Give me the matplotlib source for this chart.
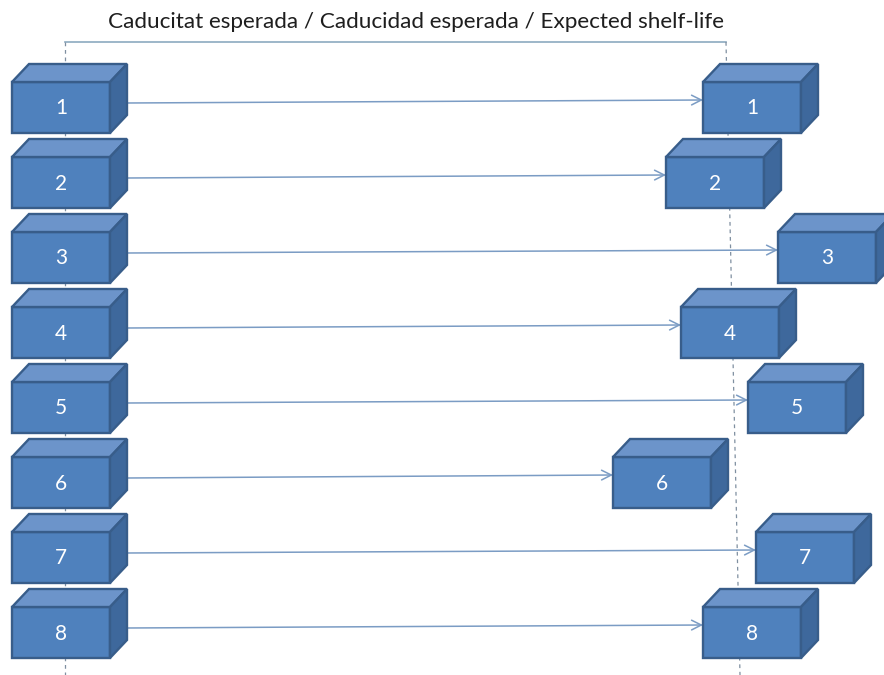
import matplotlib.pyplot as plt
from matplotlib.patches import Polygon

# Data: batch numbers and where each batch ends up (expected shelf-life, px on the axis)
labels = ["1", "2", "3", "4", "5", "6", "7", "8"]
start_x = [12, 12, 12, 12, 12, 12, 12, 12]
end_x = [703, 666, 778, 681, 748, 613, 756, 703]
ref_top = (726, 42)      # expected shelf-life reference line
ref_bottom = (740, 675)
origin_x = 65
title = "Caducitat esperada / Caducidad esperada / Expected shelf-life"

# box look
BW, BH, DX, DY = 98, 51, 17, 18
ROW0, ROW_STEP = 82, 75
FRONT = "#4f81bd"
TOP = "#6c94ca"
SIDE = "#3e689c"
EDGE = "#385d8a"
ARROW = "#7b9cc4"
LINE = "#8caac0"


def draw_box(ax, x, y, text):
    front = [(x, y), (x + BW, y), (x + BW, y + BH), (x, y + BH)]
    top = [(x, y), (x + DX, y - DY), (x + BW + DX, y - DY), (x + BW, y)]
    side = [(x + BW, y), (x + BW + DX, y - DY), (x + BW + DX, y + BH - DY), (x + BW, y + BH)]
    for pts, col in [(front, FRONT), (top, TOP), (side, SIDE)]:
        ax.add_patch(Polygon(pts, closed=True, facecolor=col, edgecolor=EDGE,
                             linewidth=1.7, joinstyle="miter", zorder=3))
    ax.text(x + BW / 2, y + BH / 2 + 1, text, color="white", fontsize=15,
            family="Lato", ha="center", va="center", zorder=4)


fig = plt.figure(figsize=(8.84, 6.75), dpi=100)
ax = fig.add_axes([0, 0, 1, 1])
ax.set_xlim(0, 884)
ax.set_ylim(675, 0)
ax.axis("off")

# reference lines
ax.plot([origin_x, ref_top[0]], [ref_top[1], ref_top[1]], color=LINE, lw=1.2, zorder=1)
ax.plot([origin_x, origin_x], [ref_top[1], 675], color="#7f8fa0", lw=0.9,
        linestyle=(0, (3, 3)), zorder=1)
ax.plot([ref_top[0], ref_bottom[0]], [ref_top[1], ref_bottom[1]], color="#7f8fa0",
        lw=0.9, linestyle=(0, (3, 3)), zorder=1)

ax.text(416, 22, title, fontsize=16.2, family="Lato", color="#1e1e1e",
        ha="center", va="center")

for i, lab in enumerate(labels):
    y = ROW0 + ROW_STEP * i
    draw_box(ax, start_x[i], y, lab)
    draw_box(ax, end_x[i], y, lab)
    ax.annotate("", xy=(end_x[i], y + 18), xytext=(start_x[i] + BW + DX, y + 21),
                arrowprops=dict(arrowstyle="->,head_length=0.7,head_width=0.35",
                                color=ARROW, lw=1.1, shrinkA=0, shrinkB=0),
                zorder=2)

fig.savefig("out.png", dpi=100)
